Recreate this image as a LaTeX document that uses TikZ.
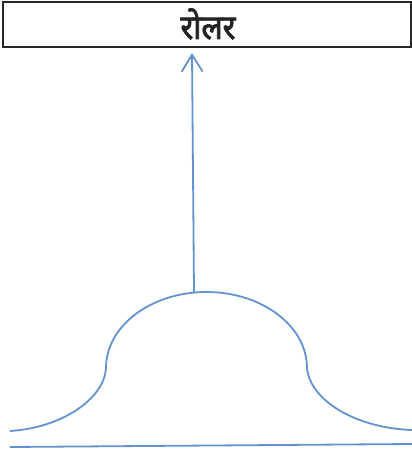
\documentclass[tikz,border=0pt]{standalone}
\usepackage{fontspec}
\newfontfamily\devfont[Script=Devanagari,FakeBold=2.5]{Noto Sans}
\usetikzlibrary{arrows.meta}
\definecolor{curveblue}{RGB}{98,146,208}
\definecolor{textdark}{RGB}{35,35,35}
\tikzset{
  titlebox/.style={draw=black!85, line width=1.2pt, minimum width=408pt, minimum height=45pt, inner sep=0pt, fill=white},
  titletext/.style={inner sep=0pt, text=textdark},
  bluecurve/.style={draw=curveblue, line width=1.8pt},
  forcearrow/.style={bluecurve, -{Straight Barb[length=17pt, width=21pt, line width=1.8pt]}}
}
\begin{document}
\begin{tikzpicture}[x=1pt, y=-1pt]
\useasboundingbox (0,0) rectangle (412,451);
\node[titlebox] (box) at (207,24.5) {};
\node[titletext] (title) at (208,24) {\scalebox{0.92}[1]{\devfont\fontsize{34}{38}\selectfont रोलर}};
% bell curve
\coordinate (L0) at (10,431);
\coordinate (L1) at (106,368);
\coordinate (R1) at (307,368);
\coordinate (R0) at (412,430);
\coordinate (top) at (194,292);
\draw[bluecurve] (L0) .. controls (60,428) and (104,400) .. (L1)
  arc[start angle=180, end angle=0, x radius=100.5, y radius=-76]
  .. controls (310,400) and (355,428) .. (R0);
% arrow
\coordinate (tip) at (192,53);
\draw[forcearrow] (top) -- (tip);
% ground line
\coordinate (G0) at (10,447);
\coordinate (G1) at (412,444);
\draw[bluecurve] (G0) -- (G1);
\end{tikzpicture}
\end{document}
